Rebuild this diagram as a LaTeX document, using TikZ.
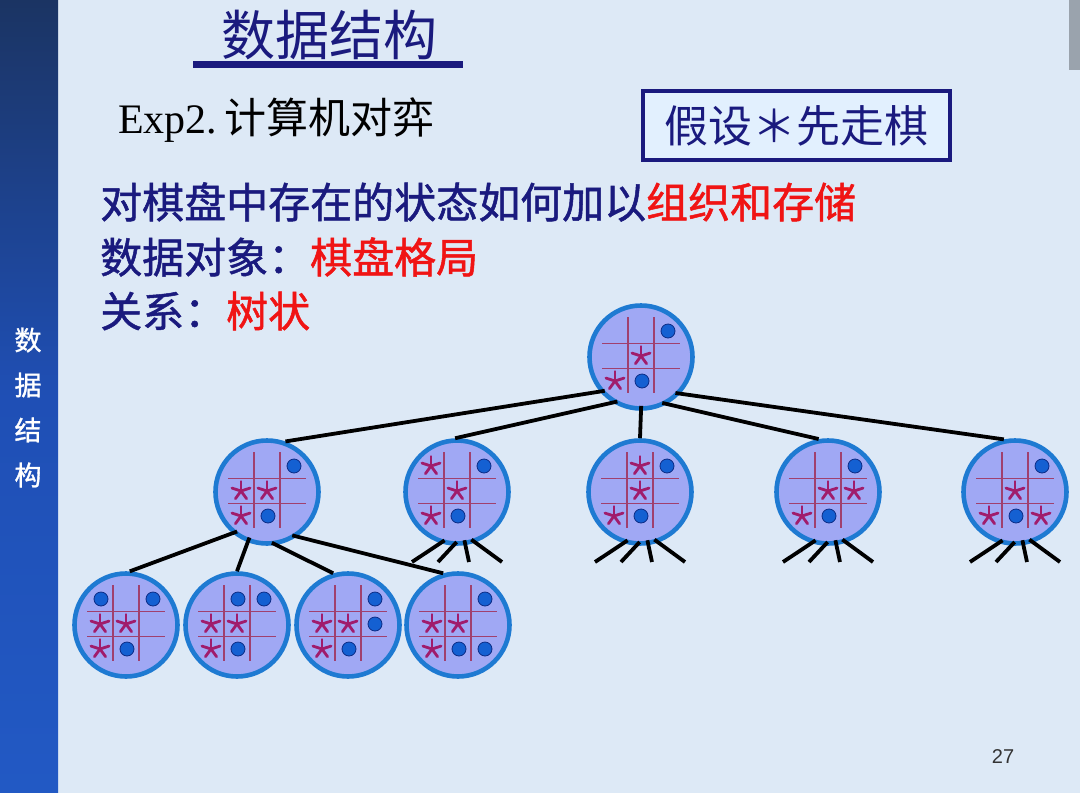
\documentclass[tikz,border=0pt]{standalone}
\usepackage{fontspec}
\setmainfont{Liberation Serif}
\newfontfamily\cjk{Noto Sans CJK SC}
\newfontfamily\cjkb[FakeBold=1.2]{Noto Sans CJK SC}
\newfontfamily\sanslat{Liberation Sans}
\usetikzlibrary{calc}
\definecolor{bg}{HTML}{DDE9F6}
\definecolor{navy}{HTML}{1A1A7E}
\definecolor{redtxt}{HTML}{F01414}
\definecolor{nodefill}{HTML}{A0A8F4}
\definecolor{nodeborder}{HTML}{1E7AD2}
\definecolor{gridc}{HTML}{A0406E}
\definecolor{starc}{HTML}{A01C6C}
\definecolor{dotc}{HTML}{1460D2}
\definecolor{dotb}{HTML}{0C2C86}
\definecolor{boxfill}{HTML}{E2F0FE}
\definecolor{sidetop}{HTML}{1B3463}
\definecolor{sidemid}{HTML}{1F4FB5}
\definecolor{sidebot}{HTML}{2259C4}
\definecolor{graybar}{HTML}{9AA3AD}
\newcommand\mystar[2]{\foreach \a in {-90,-18,-162,54,126}{\draw[starline] ({#1*26},{-1+#2*25}) -- ++(\a:9.5);}}
\newcommand\mydot[2]{\filldraw[fill=dotc,draw=dotb,line width=0.8pt] ({#1*26+1},{-1+#2*25}) circle[radius=7];}
\newcommand\mygrid{\draw[gridline] (-13,-40)--(-13,36) (13,-40)--(13,36) (-39,-13.5)--(39,-13.5) (-39,11.5)--(39,11.5);}
\begin{document}
\begin{tikzpicture}[x=1pt,y=-1pt,
  board/.style={circle,draw=nodeborder,line width=4.6pt,fill=nodefill,minimum size=103pt,inner sep=0pt},
  edge/.style={line width=3.8pt,black,shorten <=-5pt},
  gridline/.style={gridc,line width=1.5pt},
  starline/.style={starc,line width=2.8pt,line cap=round},
  cjktext/.style={font=\cjkb\fontsize{42}{50}\selectfont,inner sep=0pt,anchor=west}]
\useasboundingbox (0,0) rectangle (1080,793);
\fill[bg] (0,0) rectangle (1080,793);
\shade[top color=sidetop,bottom color=sidebot,middle color=sidemid] (0,0) rectangle (58,793);
\fill[graybar] (1069,0) rectangle (1080,70);
% sidebar text
\foreach \ch/\yy in {数/340,据/385,结/430,构/475}
  \node[text=white,font=\cjkb\fontsize{27}{30}\selectfont,inner sep=0pt] (side\yy) at (28,\yy) {\ch};
% title
\node[text=navy,font=\cjk\fontsize{54}{60}\selectfont,inner sep=0pt] (title) at (329,35) {数据结构};
\fill[navy] (193,61) rectangle (463,68);
% subtitle
\node[inner sep=0pt,anchor=west,text=black] (exp) at (118,120) {\fontsize{42}{50}\selectfont Exp2.\,{\cjk 计算机对弈}};
\node[draw=navy,line width=4pt,fill=boxfill,minimum width=307pt,minimum height=69pt,inner sep=0pt,text=navy,font=\cjk\fontsize{44}{50}\selectfont] (box) at (796.5,125.5) {假设＊先走棋};
% text lines
\node[cjktext,text=navy] (l1) at (100,202) {对棋盘中存在的状态如何加以\textcolor{redtxt}{组织和存储}};
\node[cjktext,text=navy] (l2) at (100,257) {数据对象：\textcolor{redtxt}{棋盘格局}};
\node[cjktext,text=navy] (l3) at (100,311) {关系：\textcolor{redtxt}{树状}};
% nodes
\node[board] (R) at (641,357) {};
\node[board] (A) at (267,492) {};
\node[board] (B) at (457,492) {};
\node[board] (C) at (640,492) {};
\node[board] (D) at (828,492) {};
\node[board] (E) at (1015,492) {};
\node[board] (L1) at (126,625) {};
\node[board] (L2) at (237,625) {};
\node[board] (L3) at (348,625) {};
\node[board] (L4) at (458,625) {};
% boards
\begin{scope}[shift={(R.center)}]\mygrid \mydot{1}{-1}\mystar{0}{0}\mystar{-1}{1}\mydot{0}{1}\end{scope}
\begin{scope}[shift={(A.center)}]\mygrid \mydot{1}{-1}\mystar{-1}{0}\mystar{0}{0}\mystar{-1}{1}\mydot{0}{1}\end{scope}
\begin{scope}[shift={(B.center)}]\mygrid \mystar{-1}{-1}\mydot{1}{-1}\mystar{0}{0}\mystar{-1}{1}\mydot{0}{1}\end{scope}
\begin{scope}[shift={(C.center)}]\mygrid \mystar{0}{-1}\mydot{1}{-1}\mystar{0}{0}\mystar{-1}{1}\mydot{0}{1}\end{scope}
\begin{scope}[shift={(D.center)}]\mygrid \mydot{1}{-1}\mystar{0}{0}\mystar{1}{0}\mystar{-1}{1}\mydot{0}{1}\end{scope}
\begin{scope}[shift={(E.center)}]\mygrid \mydot{1}{-1}\mystar{0}{0}\mystar{-1}{1}\mydot{0}{1}\mystar{1}{1}\end{scope}
\begin{scope}[shift={(L1.center)}]\mygrid \mydot{-1}{-1}\mydot{1}{-1}\mystar{-1}{0}\mystar{0}{0}\mystar{-1}{1}\mydot{0}{1}\end{scope}
\begin{scope}[shift={(L2.center)}]\mygrid \mydot{0}{-1}\mydot{1}{-1}\mystar{-1}{0}\mystar{0}{0}\mystar{-1}{1}\mydot{0}{1}\end{scope}
\begin{scope}[shift={(L3.center)}]\mygrid \mydot{1}{-1}\mystar{-1}{0}\mystar{0}{0}\mydot{1}{0}\mystar{-1}{1}\mydot{0}{1}\end{scope}
\begin{scope}[shift={(L4.center)}]\mygrid \mydot{1}{-1}\mystar{-1}{0}\mystar{0}{0}\mystar{-1}{1}\mydot{0}{1}\mydot{1}{1}\end{scope}
% edges root -> level 2
\draw[edge] (R.-140) -- (A.70);
\draw[edge] (R.-122) -- (B.92);
\draw[edge] (R.-90) -- (C.90);
\draw[edge] (R.-61) -- (D.100);
\draw[edge] (R.-43) -- (E.102);
% edges A -> level 3
\draw[edge] (A.-130) -- (L1.86);
\draw[edge] (A.-111) -- (L2.90);
\draw[edge] (A.-80) -- (L3.106);
\draw[edge] (A.-56) -- (L4.106);
% stubs
\foreach \n in {B,C,D,E}{
  \coordinate (\n s1) at ($(\n)+(-45,70)$);
  \coordinate (\n s2) at ($(\n)+(-19,70)$);
  \coordinate (\n s3) at ($(\n)+(12,70)$);
  \coordinate (\n s4) at ($(\n)+(45,70)$);
  \draw[edge] (\n.-108) -- (\n s1);
  \draw[edge] (\n.-94) -- (\n s2);
  \draw[edge] (\n.-81) -- (\n s3);
  \draw[edge] (\n.-70) -- (\n s4);
}
\node[font=\sanslat\fontsize{20}{24}\selectfont,text=black!80,inner sep=0pt] (pg) at (1003,757) {27};
\end{tikzpicture}
\end{document}
